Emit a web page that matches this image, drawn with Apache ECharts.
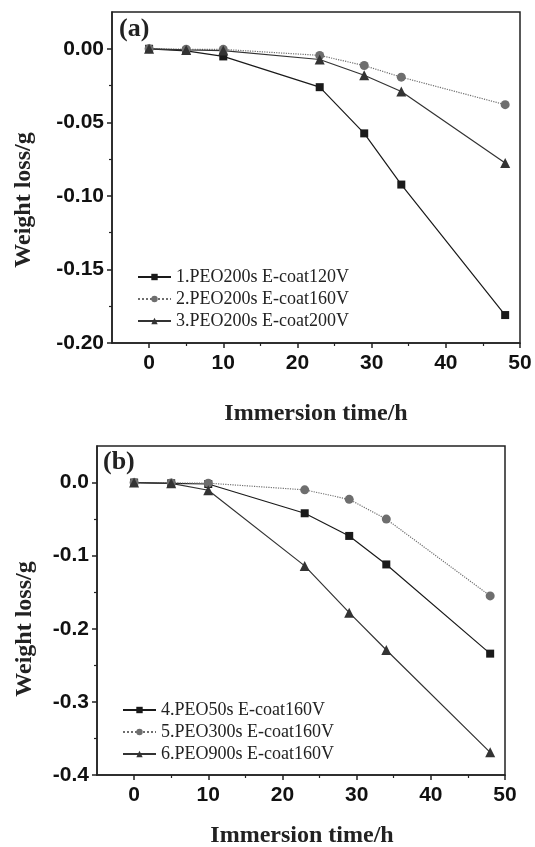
<!DOCTYPE html>
<html>
<head>
<meta charset="utf-8">
<script src="https://cdn.jsdelivr.net/npm/echarts@6/dist/echarts.min.js"></script>
<style>
  html, body { margin: 0; padding: 0; background: #fff; }
  #main { width: 535px; height: 847px; }
</style>
</head>
<body>
<div id="main"></div>
<script>
// immersion time (h), same for every sample
const hours = [0, 5, 10, 23, 29, 34, 48];

// panel (a) – PEO200s, different E-coat voltage
const namesA = ['1.PEO200s E-coat120V', '2.PEO200s E-coat160V', '3.PEO200s E-coat200V'];
const loss1 = [0, -0.0014, -0.0052, -0.0261, -0.0575, -0.0923, -0.181];
const loss2 = [0, -0.0003, -0.0004, -0.0045, -0.0114, -0.0193, -0.038];
const loss3 = [0, -0.0008, -0.0012, -0.0073, -0.0180, -0.0290, -0.0777];

// panel (b) – E-coat160V, different PEO time
const namesB = ['4.PEO50s E-coat160V', '5.PEO300s E-coat160V', '6.PEO900s E-coat160V'];
const loss4 = [0, -0.001, -0.002, -0.042, -0.073, -0.112, -0.234];
const loss5 = [0, -0.0005, -0.0008, -0.010, -0.023, -0.050, -0.155];
const loss6 = [0, -0.001, -0.0105, -0.114, -0.178, -0.229, -0.369];

const xLabels = [0, 10, 20, 30, 40, 50];
const xMinor = [5, 15, 25, 35, 45];
const yLabelsA = [-0.2, -0.15, -0.1, -0.05, 0];
const yMinorA = [-0.175, -0.125, -0.075, -0.025];
const yLabelsB = [-0.4, -0.3, -0.2, -0.1, 0];
const yMinorB = [-0.35, -0.25, -0.15, -0.05];

const pts = arr => hours.map((h, i) => [h, arr[i]]);

const tickFont = { fontFamily: 'Liberation Sans', fontWeight: 'bold', fontSize: 21, color: '#111' };
const titleFont = 'bold 24px "Liberation Serif"';

function mainX(grid) {
  return {
    type: 'value', gridIndex: grid, min: -5, max: 50, interval: 5, position: 'bottom',
    axisLine: { onZero: false, lineStyle: { color: '#222', width: 1.5 } },
    axisTick: { customValues: xLabels, length: 5, lineStyle: { color: '#222', width: 1.5 } },
    axisLabel: Object.assign({ customValues: xLabels, margin: 10 }, tickFont),
    splitLine: { show: false }
  };
}
function minorX(grid) {
  return {
    type: 'value', gridIndex: grid, min: -5, max: 50, interval: 5, position: 'bottom',
    axisLine: { show: false, onZero: false },
    axisTick: { customValues: xMinor, length: 3, lineStyle: { color: '#222', width: 1.2 } },
    axisLabel: { show: false }, splitLine: { show: false }
  };
}
function mainY(grid, min, max, labels, digits) {
  return {
    type: 'value', gridIndex: grid, min: min, max: max, interval: 0.025, position: 'left',
    axisLine: { onZero: false, lineStyle: { color: '#222', width: 1.5 } },
    axisTick: { customValues: labels, length: 5, lineStyle: { color: '#222', width: 1.5 } },
    axisLabel: Object.assign({ customValues: labels, margin: 8,
      formatter: v => Number(v).toFixed(digits) }, tickFont),
    splitLine: { show: false }
  };
}
function minorY(grid, min, max, ticks) {
  return {
    type: 'value', gridIndex: grid, min: min, max: max, interval: 0.025, position: 'left',
    axisLine: { show: false, onZero: false },
    axisTick: { customValues: ticks, length: 3, lineStyle: { color: '#222', width: 1.2 } },
    axisLabel: { show: false }, splitLine: { show: false }
  };
}

function line(name, data, xi, yi, symbol, size, color, type) {
  return {
    name: name, type: 'line', xAxisIndex: xi, yAxisIndex: yi, data: data,
    symbol: symbol, symbolSize: size, animation: false,
    itemStyle: { color: color },
    lineStyle: { color: color, width: 1.2, type: type }
  };
}

const chart = echarts.init(document.getElementById('main'));
const option = {
  backgroundColor: '#fff',
  animation: false,
  grid: [
    { left: 112, top: 12, width: 408, height: 331, show: true, borderColor: '#222', borderWidth: 1.5 },
    { left: 97, top: 446, width: 408, height: 329, show: true, borderColor: '#222', borderWidth: 1.5 }
  ],
  xAxis: [mainX(0), minorX(0), mainX(1), minorX(1)],
  yAxis: [
    mainY(0, -0.2, 0.025, yLabelsA, 2), minorY(0, -0.2, 0.025, yMinorA),
    mainY(1, -0.4, 0.05, yLabelsB, 1), minorY(1, -0.4, 0.05, yMinorB)
  ],
  legend: [
    {
      data: namesA, orient: 'vertical', left: 132, top: 263, itemWidth: 33, itemHeight: 8, itemGap: 4,
      textStyle: { fontFamily: 'Liberation Serif', fontSize: 18, color: '#222' }
    },
    {
      data: namesB, orient: 'vertical', left: 117, top: 696, itemWidth: 33, itemHeight: 8, itemGap: 4,
      textStyle: { fontFamily: 'Liberation Serif', fontSize: 18, color: '#222' }
    }
  ],
  graphic: [
    { type: 'text', x: 119, y: 16, style: { text: '(a)', font: 'bold 26px "Liberation Serif"', fill: '#222' } },
    { type: 'text', x: 103, y: 449, style: { text: '(b)', font: 'bold 26px "Liberation Serif"', fill: '#222' } },
    { type: 'text', x: 24, y: 200, rotation: Math.PI / 2,
      style: { text: 'Weight loss/g', font: titleFont, fill: '#222', align: 'center', verticalAlign: 'middle' } },
    { type: 'text', x: 25, y: 629, rotation: Math.PI / 2,
      style: { text: 'Weight loss/g', font: titleFont, fill: '#222', align: 'center', verticalAlign: 'middle' } },
    { type: 'text', x: 316, y: 414,
      style: { text: 'Immersion time/h', font: titleFont, fill: '#222', align: 'center', verticalAlign: 'middle' } },
    { type: 'text', x: 302, y: 836,
      style: { text: 'Immersion time/h', font: titleFont, fill: '#222', align: 'center', verticalAlign: 'middle' } }
  ],
  series: [
    line(namesA[0], pts(loss1), 0, 0, 'rect', 8, '#1a1a1a', 'solid'),
    line(namesA[1], pts(loss2), 0, 0, 'circle', 9, '#6e6e6e', 'dotted'),
    line(namesA[2], pts(loss3), 0, 0, 'triangle', 10, '#333', 'solid'),
    line(namesB[0], pts(loss4), 2, 2, 'rect', 8, '#1a1a1a', 'solid'),
    line(namesB[1], pts(loss5), 2, 2, 'circle', 9, '#6e6e6e', 'dotted'),
    line(namesB[2], pts(loss6), 2, 2, 'triangle', 10, '#333', 'solid')
  ]
};
chart.setOption(option);
</script>
</body>
</html>
